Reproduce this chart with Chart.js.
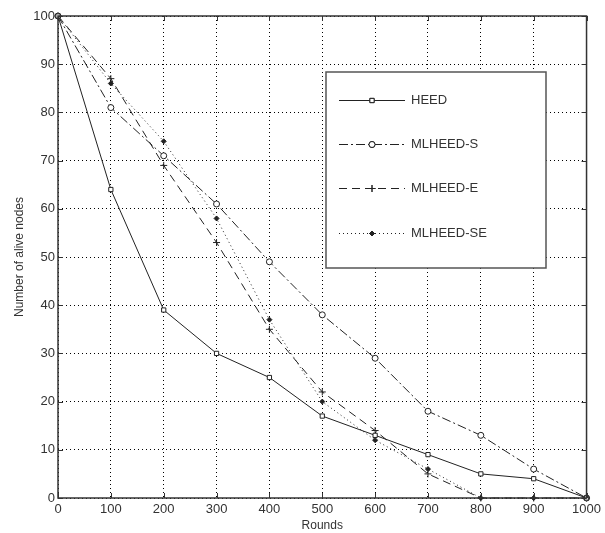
<!DOCTYPE html>
<html>
<head>
<meta charset="utf-8">
<script src="https://cdn.jsdelivr.net/npm/chart.js@4"></script>
<style>
  html, body { margin: 0; padding: 0; background: #fff; }
  #wrap { width: 605px; height: 533px; position: relative; }
</style>
</head>
<body>
<div id="wrap"><canvas id="chart"></canvas></div>
<script>
const rounds = [0, 100, 200, 300, 400, 500, 600, 700, 800, 900, 1000];
const heed = [100, 64, 39, 30, 25, 17, 13, 9, 5, 4, 0];
const mlheedS = [100, 81, 71, 61, 49, 38, 29, 18, 13, 6, 0];
const mlheedE = [100, 87, 69, 53, 35, 22, 14, 5, 0, 0, 0];
const mlheedSE = [100, 86, 74, 58, 37, 20, 12, 6, 0, 0, 0];
const seriesNames = ['HEED', 'MLHEED-S', 'MLHEED-E', 'MLHEED-SE'];

const FONT = '"Liberation Sans", Arial, sans-serif';
const INK = '#222';

const styles = [
  { dash: [], point: 'rect', radius: 3, fill: '#fff' },
  { dash: [9, 3, 2, 3], point: 'circle', radius: 3, fill: '#fff' },
  { dash: [8, 5], point: 'cross', radius: 3.5, fill: INK },
  { dash: [1, 3], point: 'rectRot', radius: 2.5, fill: INK }
];

const toPoints = vals => rounds.map((r, i) => ({ x: r, y: vals[i] }));

const datasets = [heed, mlheedS, mlheedE, mlheedSE].map((vals, i) => ({
  label: seriesNames[i],
  data: toPoints(vals),
  borderColor: INK,
  borderWidth: 1,
  borderDash: styles[i].dash,
  pointStyle: styles[i].point,
  pointRadius: styles[i].radius,
  pointBorderColor: INK,
  pointBorderWidth: 1,
  pointBackgroundColor: styles[i].fill,
  tension: 0,
  fill: false,
  clip: false
}));

// frame, inward tick marks and the boxed legend, MATLAB style
const framePlugin = {
  id: 'frame',
  afterDraw(chart) {
    const { ctx, chartArea: a, scales } = chart;
    ctx.save();
    ctx.setLineDash([]);
    ctx.strokeStyle = '#333';
    ctx.lineWidth = 1;
    ctx.beginPath();
    scales.x.ticks.forEach(t => {
      const px = Math.round(scales.x.getPixelForValue(t.value)) + 0.5;
      ctx.moveTo(px, a.bottom); ctx.lineTo(px, a.bottom - 5);
      ctx.moveTo(px, a.top); ctx.lineTo(px, a.top + 5);
    });
    scales.y.ticks.forEach(t => {
      const py = Math.round(scales.y.getPixelForValue(t.value)) + 0.5;
      ctx.moveTo(a.left, py); ctx.lineTo(a.left + 5, py);
      ctx.moveTo(a.right, py); ctx.lineTo(a.right - 5, py);
    });
    ctx.stroke();
    ctx.lineWidth = 1.5;
    ctx.strokeRect(a.left, a.top, a.right - a.left, a.bottom - a.top);

    // legend
    const lx = 326, ly = 72, lw = 220, lh = 196;
    ctx.fillStyle = '#fff';
    ctx.fillRect(lx, ly, lw, lh);
    ctx.strokeStyle = '#555';
    ctx.lineWidth = 1.5;
    ctx.strokeRect(lx, ly, lw, lh);
    ctx.font = '13px ' + FONT;
    ctx.textBaseline = 'middle';
    ctx.textAlign = 'left';
    seriesNames.forEach((name, i) => {
      const y = Math.round(100 + i * 44.2) + 0.5;
      ctx.strokeStyle = INK;
      ctx.lineWidth = 1;
      ctx.setLineDash(styles[i].dash);
      ctx.beginPath();
      ctx.moveTo(339, y); ctx.lineTo(405, y);
      ctx.stroke();
      ctx.setLineDash([]);
      Chart.helpers.drawPoint(ctx, {
        pointStyle: styles[i].point,
        radius: styles[i].radius,
        borderWidth: 1,
        rotation: 0
      }, 372, y);
      ctx.fillStyle = styles[i].fill;
      ctx.strokeStyle = INK;
      ctx.fill();
      ctx.stroke();
      ctx.fillStyle = '#333';
      ctx.fillText(name, 411, y);
    });
    ctx.restore();
  }
};

new Chart(document.getElementById('chart'), {
  type: 'line',
  data: { datasets },
  options: {
    responsive: true,
    maintainAspectRatio: false,
    animation: false,
    layout: { padding: { left: 0, right: 15, top: 16, bottom: 0 } },
    plugins: { legend: { display: false }, tooltip: { enabled: false } },
    scales: {
      x: {
        type: 'linear',
        min: 0,
        max: 1000,
        afterFit(scale) { scale.height = 35; },
        ticks: { stepSize: 100, color: '#333', padding: 4, maxRotation: 0, callback: v => String(v), font: { family: FONT, size: 13 } },
        grid: { color: '#000', lineWidth: 1, drawTicks: false },
        border: { display: false, dash: [1, 3] },
        title: { display: true, text: 'Rounds', color: '#333', padding: 0, font: { family: FONT, size: 12 } }
      },
      y: {
        min: 0,
        max: 100,
        afterFit(scale) { scale.width = 58; },
        ticks: { stepSize: 10, color: '#333', padding: 3, callback: v => String(v), font: { family: FONT, size: 13 } },
        grid: { color: '#000', lineWidth: 1, drawTicks: false },
        border: { display: false, dash: [1, 3] },
        title: { display: true, text: 'Number of alive nodes', color: '#333', padding: { top: 12, bottom: 0 }, font: { family: FONT, size: 12 } }
      }
    }
  },
  plugins: [framePlugin]
});
</script>
</body>
</html>
